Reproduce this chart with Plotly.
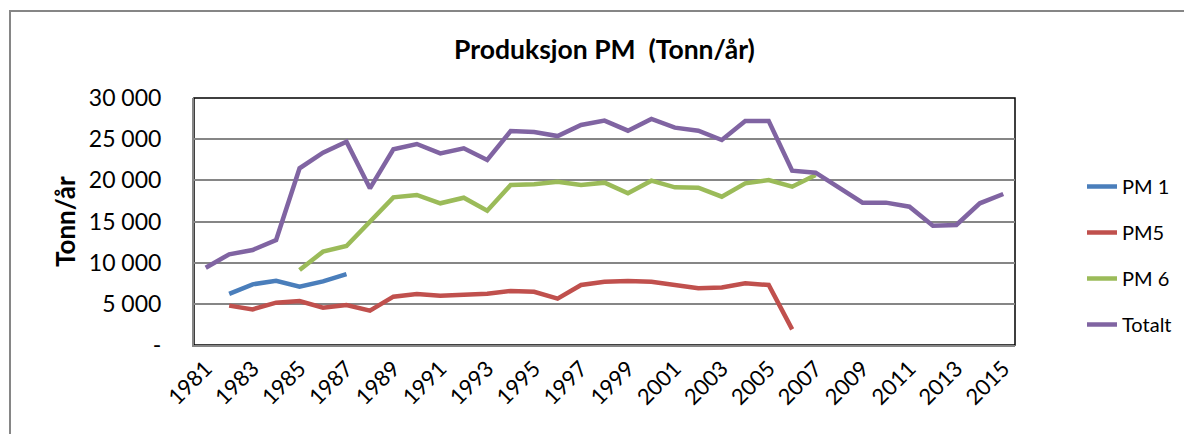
import plotly.graph_objects as go

years = list(range(1981, 2016))

pm1_years = list(range(1982, 1988))
pm1 = [6200, 7370, 7810, 7080, 7730, 8620]

pm5_years = list(range(1982, 2007))
pm5 = [4780, 4330, 5140, 5340, 4530, 4860, 4170, 5870, 6190, 5990, 6110, 6230,
       6560, 6470, 5630, 7290, 7690, 7770, 7690, 7290, 6880, 6980, 7490, 7290, 1900]

pm6_years = list(range(1985, 2008))
pm6 = [9110, 11340, 12020, 15060, 17930, 18220, 17210, 17890, 16310, 19430, 19520,
       19840, 19430, 19720, 18420, 19960, 19150, 19110, 18010, 19640, 20040, 19230, 20650]

totalt = [9390, 11020, 11540, 12750, 21460, 23360, 24700, 19030, 23770, 24410, 23280,
          23890, 22470, 25990, 25870, 25380, 26720, 27250, 26030, 27450, 26400, 26030,
          24900, 27210, 27210, 21170, 20930, 19150, 17290, 17290, 16800, 14490, 14580,
          17210, 18340]

y_tickvals = [0, 5000, 10000, 15000, 20000, 25000, 30000]
y_ticktext = ["-", "5 000", "10 000", "15 000", "20 000", "25 000", "30 000"]
x_tickvals = list(range(1981, 2016, 2))

FONT = "Lato"

fig = go.Figure()
series = [
    ("PM 1", pm1_years, pm1, "#4A7EBB"),
    ("PM5", pm5_years, pm5, "#C0504D"),
    ("PM 6", pm6_years, pm6, "#9BBB59"),
    ("Totalt", years, totalt, "#8064A2"),
]
for name, xs, ys, col in series:
    fig.add_trace(go.Scatter(x=xs, y=ys, name=name, mode="lines",
                             line=dict(color=col, width=4.5), legendgroup=name))

OFF = 8  # page body margin
W, H = 1192 - OFF, 434 - OFF
L, R, T, B = 194 - OFF, 1015 - OFF, 98 - OFF, 345 - OFF

def px_x(p):
    return (p - OFF - L) / (R - L)

def px_y(p):
    return (B - (p - OFF)) / (B - T)

fig.update_layout(
    width=W, height=H,
    margin=dict(l=L, r=W - R, t=T, b=H - B),
    paper_bgcolor="white", plot_bgcolor="white",
    font=dict(family=FONT, color="black"),
    title=dict(text="<b>Produksjon PM  (Tonn/år)</b>", x=0.5, xref="paper",
               y=1 - (50 - OFF) / H, yref="container", yanchor="middle", xanchor="center",
               font=dict(size=26.5, family=FONT)),
    showlegend=True,
    legend=dict(x=px_x(1082), y=px_y(167), xanchor="left", yanchor="top",
                font=dict(size=20, family=FONT), tracegroupgap=17,
                traceorder="grouped", bgcolor="rgba(0,0,0,0)"),
    xaxis=dict(range=[1980.5, 2015.5], tickvals=x_tickvals,
               ticktext=[str(v) for v in x_tickvals], tickangle=-45,
               tickfont=dict(size=22, family=FONT), showgrid=False,
               showline=True, linecolor="#868686", linewidth=2, zeroline=False,
               ticks=""),
    yaxis=dict(range=[0, 30000], tickvals=y_tickvals, ticktext=y_ticktext,
               tickfont=dict(size=23, family=FONT), showgrid=True,
               gridcolor="#868686", gridwidth=1.5, showline=True,
               linecolor="#868686", linewidth=2, zeroline=False, ticks="",
               ticklen=0, ticklabelstandoff=26),
    shapes=[
        dict(type="rect", xref="paper", yref="paper", x0=0, x1=1, y0=0, y1=1,
             line=dict(color="black", width=1.5), layer="below"),
        dict(type="rect", xref="paper", yref="paper", x0=px_x(10), x1=px_x(1210),
             y0=px_y(450), y1=px_y(11), line=dict(color="#868686", width=2)),
    ],
    annotations=[
        dict(text="<b>Tonn/år</b>", x=px_x(65), y=px_y(222), xref="paper",
             yref="paper", textangle=-90, showarrow=False,
             font=dict(size=26, family=FONT), xanchor="center", yanchor="middle"),
    ],
)

fig.write_html("out.html")
